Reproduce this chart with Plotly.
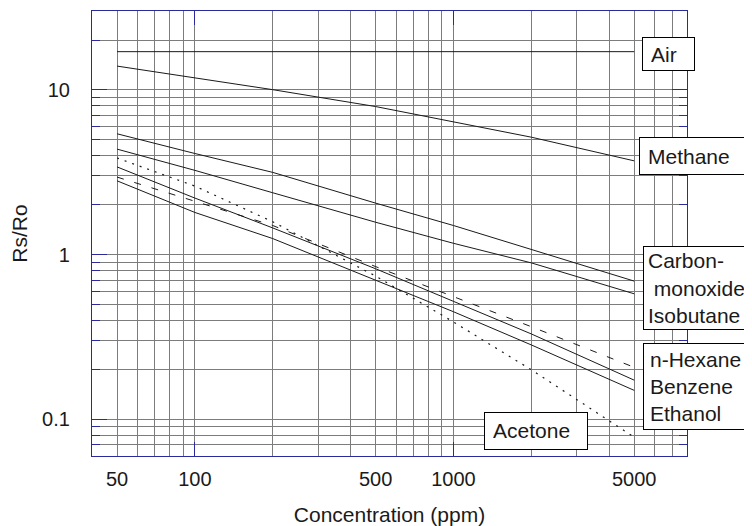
import plotly.graph_objects as go

# ---- data ----
conc = [50, 100, 200, 500, 1000, 2000, 5000]
air = [17, 17, 17, 17, 17, 17, 17]
methane = [13.9, 11.8, 10.0, 7.9, 6.4, 5.15, 3.7]
carbon_monoxide = [5.4, 4.1, 3.15, 2.05, 1.5, 1.07, 0.69]
isobutane = [4.36, 3.24, 2.37, 1.57, 1.17, 0.89, 0.578]
n_hexane = [2.95, 2.11, 1.50, 0.845, 0.557, 0.365, 0.207]
benzene = [3.4, 2.2, 1.45, 0.82, 0.52, 0.33, 0.173]
ethanol = [2.8, 1.8, 1.25, 0.70, 0.45, 0.283, 0.150]
acetone = [3.85, 2.6, 1.58, 0.74, 0.39, 0.20, 0.078]

x_tick_vals = [50, 100, 500, 1000, 5000]
x_tick_text = ["50", "100", "500", "1000", "5000"]
x_minor_grid = [60, 70, 80, 90, 200, 300, 400, 600, 700, 800, 900,
                2000, 3000, 4000, 6000, 7000]
y_tick_vals = [0.1, 1, 10]
y_tick_text = ["0.1", "1", "10"]
y_minor_grid = [0.07, 0.08, 0.09, 0.2, 0.3, 0.4, 0.5, 0.6, 0.7, 0.8, 0.9,
                2, 3, 4, 5, 6, 7, 8, 9, 20]
x_major_ticks = [100, 1000]

label_air = "Air"
label_methane = "Methane"
label_co_iso = "Carbon-<br>\u00a0monoxide<br>Isobutane"
label_hex_group = "n-Hexane<br>Benzene<br>Ethanol"
label_acetone = "Acetone"

# ---- styling ----
FONT = "Arial, 'Liberation Sans', sans-serif"
BLUE = "#2a2a9c"
GRID = "#7c7c7c"
LINE = "#1a1a1a"

# the page body adds an 8px offset, so the figure is 8px smaller
OFF = 8
W, H = 752 - OFF, 526 - OFF
ML, MT = 92 - OFF, 11 - OFF
PW, PH = 595, 445
MR, MB = W - ML - PW, H - MT - PH

fig = go.Figure()

series = [
    (air, "solid", 1), (methane, "solid", 1), (carbon_monoxide, "solid", 1),
    (isobutane, "solid", 1), (n_hexane, "7px,11px", 1), (benzene, "solid", 1),
    (ethanol, "solid", 1), (acetone, "2px,6px", 1.2),
]
for vals, dash, lw in series:
    fig.add_trace(go.Scatter(
        x=conc, y=vals, mode="lines",
        line=dict(color=LINE, width=lw, dash=dash),
        showlegend=False, hoverinfo="skip"))

# invisible trace so the overlaying tick axis is always drawn
fig.add_trace(go.Scatter(x=[conc[0]], y=[air[0]], xaxis="x2", yaxis="y",
                         mode="markers", marker=dict(opacity=0),
                         showlegend=False, hoverinfo="skip"))


def px_x(px):
    return (px - OFF - ML) / PW


def px_y(py):
    return (MT + PH - (py - OFF)) / PH


boxes = [
    (label_air, 641.7, 36.7, 52.6, 34.0, 8),
    (label_methane, 639.3, 136.7, 109.0, 38.3, 8),
    (label_co_iso, 642.7, 245.7, 108.5, 84.3, 4),
    (label_hex_group, 642.7, 342.7, 108.5, 87.3, 6),
    (label_acetone, 484.0, 412.3, 104.0, 37.7, 8),
]
for text, left, top, bw_, bh_, pad in boxes:
    fig.add_annotation(
        text=text, xref="paper", yref="paper",
        x=px_x(left), y=px_y(top), xanchor="left", yanchor="top",
        showarrow=False, align="left", valign="middle",
        width=bw_ - 2 * pad - 2, height=bh_ - 2 * pad - 2,
        borderpad=pad, borderwidth=1, bordercolor="#000000",
        bgcolor="#ffffff", font=dict(family=FONT, size=21, color="#1a1a1a"))

fig.update_layout(
    width=W, height=H,
    margin=dict(l=ML, r=MR, t=MT, b=MB, pad=0, autoexpand=False),
    paper_bgcolor="white", plot_bgcolor="white",
    showlegend=False,
    font=dict(family=FONT, size=20, color="#1a1a1a"),
    xaxis=dict(
        type="log", range=[1.60206, 3.90309], automargin=False,
        tickmode="array", tickvals=x_tick_vals, ticktext=x_tick_text,
        ticks="", showgrid=True, gridcolor=GRID, gridwidth=1.4,
        minor=dict(tickmode="array", tickvals=x_minor_grid, showgrid=True,
                   gridcolor=GRID, gridwidth=1.4, ticks=""),
        showline=True, linecolor=BLUE, linewidth=1.2, mirror=True,
        zeroline=False, ticklabelstandoff=5,
        tickfont=dict(size=20),
        title=dict(text="Concentration (ppm)", font=dict(size=21), standoff=18),
    ),
    xaxis2=dict(
        type="log", range=[1.60206, 3.90309], overlaying="x", anchor="y",
        side="bottom", tickmode="array", tickvals=x_major_ticks,
        automargin=False,
        ticks="inside", ticklen=14, tickcolor=BLUE, tickwidth=1.2,
        showticklabels=False, showgrid=False, zeroline=False,
        showline=True, linecolor=BLUE, linewidth=1.2, mirror="ticks",
    ),
    yaxis=dict(
        type="log", range=[-1.221849, 1.477121], automargin=False,
        tickmode="array", tickvals=y_tick_vals, ticktext=y_tick_text,
        ticks="inside", ticklen=15, tickcolor=BLUE, tickwidth=1.2,
        showgrid=True, gridcolor=GRID, gridwidth=1.4,
        minor=dict(tickmode="array", tickvals=y_minor_grid, showgrid=True,
                   gridcolor=GRID, gridwidth=1.4, ticks="inside",
                   ticklen=8, tickcolor=BLUE, tickwidth=1.2),
        showline=True, linecolor=BLUE, linewidth=1.2, mirror="ticks",
        zeroline=False, ticklabelstandoff=17,
        tickfont=dict(size=20),
        title=dict(text="Rs/Ro", font=dict(size=21), standoff=10),
    ),
)

fig.write_html("out.html")
